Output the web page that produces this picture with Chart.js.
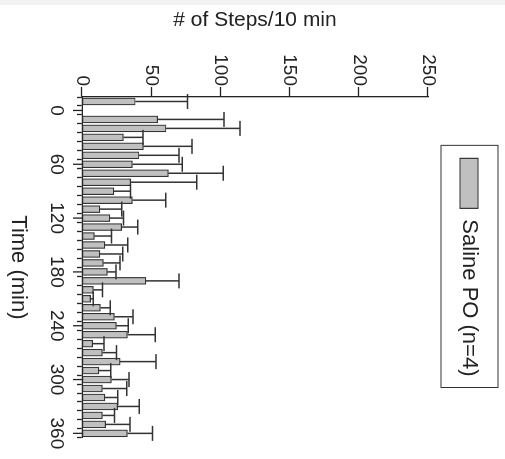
<!DOCTYPE html>
<html>
<head>
<meta charset="utf-8">
<script src="https://cdn.jsdelivr.net/npm/chart.js@4.4.1/dist/chart.umd.min.js"></script>
<style>
  html, body { margin: 0; padding: 0; background: #fff; overflow: hidden; }
  #strip { position: absolute; left: 0; top: 0; width: 505px; height: 5px; background: #f2f2f2; z-index: 2; }
  #rot {
    position: absolute; left: 0; top: 0; width: 459px; height: 505px;
    transform-origin: 0 0; transform: translate(505px, 0) rotate(90deg);
  }
</style>
</head>
<body>
<div id="strip"></div>
<div id="rot"><canvas id="chart" width="459" height="505"></canvas></div>
<script>
// time point of each bar (min)
const times = [-10, 10, 20, 30, 40, 50, 60, 70, 80, 90, 100, 110, 120, 130, 140, 150, 160, 170, 180,
  190, 200, 210, 220, 230, 240, 250, 260, 270, 280, 290, 300, 310, 320, 330, 340, 350, 360];
// mean # of steps per 10 min
const steps = [38.5, 54.7, 60.7, 29.9, 44.3, 41.2, 36.4, 62.4, 35.2, 23.1, 36.4, 13.0, 20.2, 28.7, 8.9, 16.6, 13.0, 15.4, 18.3,
  46.2, 8.2, 6.2, 13.3, 23.4, 24.8, 32.8, 7.7, 14.8, 27.5, 12.2, 21.3, 14.8, 16.6, 25.7, 14.8, 17.1, 32.8];
// error (upper only)
const sem = [37.8, 47.9, 53.5, 14.1, 35.2, 28.8, 36.1, 39.6, 47.8, 11.9, 24.1, 15.7, 9.7, 11.5, 12.5, 16.4, 16.4, 12.1, 6.3,
  23.8, 6.7, 2.0, 7.2, 13.4, 8.7, 20.2, 8.2, 10.2, 26.0, 8.5, 12.7, 17.5, 9.2, 15.7, 8.6, 17.6, 18.2];
const timeLabels = [0, 60, 120, 180, 240, 300, 360];
const stepTicks = [0, 50, 100, 150, 200, 250];
const seriesName = 'Saline PO (n=4)';

const ink = '#222';
Chart.defaults.font.family = "'Liberation Sans', Arial, sans-serif";
Chart.defaults.color = ink;

// minor ticks every 10 min
const minorTicks = [];
for (let t = -10; t <= 360; t += 10) minorTicks.push(t);

const errorBars = {
  id: 'errorBars',
  afterDatasetsDraw(chart) {
    const { ctx, scales: { x, y } } = chart;
    ctx.save();
    ctx.strokeStyle = '#333';
    ctx.lineWidth = 1.5;
    times.forEach((t, i) => {
      const px = x.getPixelForValue(t);
      const y0 = y.getPixelForValue(steps[i]);
      const y1 = y.getPixelForValue(steps[i] + sem[i]);
      ctx.beginPath();
      ctx.moveTo(px, y0);
      ctx.lineTo(px, y1);
      ctx.moveTo(px - 7.5, y1);
      ctx.lineTo(px + 7.5, y1);
      ctx.stroke();
    });
    ctx.restore();
  }
};

const extras = {
  id: 'extras',
  afterDraw(chart) {
    const { ctx, scales: { x } } = chart;
    ctx.save();
    ctx.strokeStyle = ink;
    ctx.lineWidth = 1.3;
    // longer ticks at the labelled times
    timeLabels.forEach(v => {
      const px = x.getPixelForValue(v);
      ctx.beginPath();
      ctx.moveTo(px, x.top);
      ctx.lineTo(px, x.top + 9);
      ctx.stroke();
    });
    // frame round the legend
    const hb = chart.legend.legendHitBoxes[0];
    ctx.lineWidth = 1;
    ctx.strokeStyle = '#333';
    ctx.strokeRect(hb.left - 13, hb.top - 18, hb.width + 24, hb.height + 35);
    ctx.restore();
  }
};

new Chart(document.getElementById('chart'), {
  type: 'bar',
  data: {
    datasets: [{
      label: seriesName,
      data: times.map((t, i) => ({ x: t, y: steps[i] })),
      backgroundColor: '#c0c0c0',
      borderColor: '#333',
      borderWidth: 1.2,
      borderSkipped: false,
      barThickness: 7
    }]
  },
  options: {
    responsive: false,
    animation: false,
    layout: { padding: { top: 15, right: 15, left: 0, bottom: 0 } },
    plugins: {
      tooltip: { enabled: false },
      legend: {
        position: 'top',
        fullSize: false,
        weight: 3000,
        labels: { boxWidth: 50, boxHeight: 18, padding: 10, font: { size: 22 }, color: ink }
      },
      // empty title used as a spacer between legend and plot
      title: { display: true, text: '', font: { size: 1, lineHeight: 1 }, padding: { top: 0, bottom: 19 } }
    },
    scales: {
      x: {
        type: 'linear',
        min: -15,
        max: 365,
        offset: false,
        afterBuildTicks: axis => { axis.ticks = minorTicks.map(v => ({ value: v })); },
        afterFit: axis => { axis.height = 82; },
        border: { color: ink, width: 1.3 },
        grid: { drawOnChartArea: false, tickLength: 5, tickColor: ink, tickWidth: 1.3 },
        ticks: {
          autoSkip: false, maxRotation: 0, padding: 9.5, font: { size: 19 }, color: ink,
          callback: v => timeLabels.includes(v) ? String(v) : ''
        },
        title: { display: true, text: 'Time (min)', font: { size: 22 }, color: ink, padding: { top: 0, bottom: 5 } }
      },
      y: {
        min: 0,
        max: 250,
        afterBuildTicks: axis => { axis.ticks = stepTicks.map(v => ({ value: v })); },
        afterFit: axis => { axis.width = 97; },
        border: { color: ink, width: 1.3 },
        grid: { drawOnChartArea: false, tickLength: 10, tickColor: ink, tickWidth: 1.3 },
        ticks: { padding: 1, font: { size: 19 }, color: ink },
        title: { display: true, text: '# of Steps/10 min', font: { size: 21 }, color: ink, padding: { top: 8, bottom: 0 } }
      }
    }
  },
  plugins: [errorBars, extras]
});
</script>
</body>
</html>
